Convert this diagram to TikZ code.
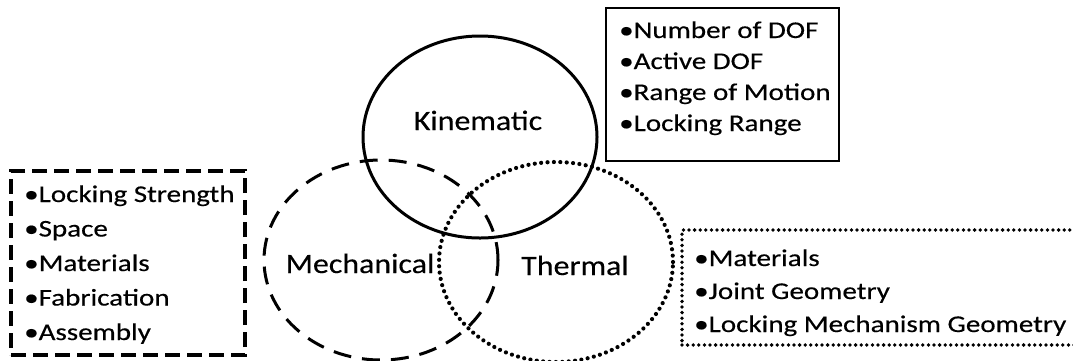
\documentclass[tikz,border=0pt]{standalone}
\usepackage{fontspec}
\setmainfont{Carlito}
\newfontfamily\listfont[FakeStretch=1.21,FakeBold=0.35]{Carlito}
\newfontfamily\labfont[FakeStretch=1.14,FakeBold=0.3]{Carlito}
\usetikzlibrary{shapes.geometric}
\tikzset{
  item/.style={font=\listfont\fontsize{24}{28}\selectfont, anchor=base west, inner sep=0pt},
  lab/.style={font=\labfont\fontsize{28}{32}\selectfont, anchor=base, inner sep=0pt},
  venn/.style={ellipse, draw, line width=3pt, inner sep=0pt, minimum width=234pt},
  dashline/.style={line width=3pt, dash pattern=on 18pt off 11pt},
  dotline/.style={line width=4.2pt, line cap=round, dash pattern=on 0pt off 6.4pt},
  boxdash/.style={line width=3.2pt, dash pattern=on 15pt off 7pt},
  boxdot/.style={line width=3.8pt, line cap=round, dash pattern=on 0pt off 5.6pt},
  frame/.style={rectangle, inner sep=0pt, outer sep=0pt}
}
\begin{document}
\begin{tikzpicture}[x=1pt,y=-1pt]
\useasboundingbox (0,0) rectangle (1073,360);
\clip (0,0) rectangle (1073,360);
\fill[white] (0,0) rectangle (1073,360);
% Venn ellipses
\node[venn, minimum height=202pt] (kin) at (480,137) {};
\node[venn, dashline, minimum height=200pt] (mech) at (381,260) {};
\node[venn, dotline, minimum height=200pt] (therm) at (556,262) {};
% labels
\node[lab] (kinl) at (478,130) {Kinematic};
\node[lab] (mechl) at (360,273) {Mechanical};
\node[lab] (therml) at (575,275) {Thermal};
% top box
\node[frame, draw, line width=2.8pt, minimum width=233pt, minimum height=153pt] (kbox) at (722.5,84.5) {};
\node[item] (k1) at (619,38) {\textbullet Number of DOF};
\node[item] (k2) at (619,69) {\textbullet Active DOF};
\node[item] (k3) at (619,100) {\textbullet Range of Motion};
\node[item] (k4) at (619,131) {\textbullet Locking Range};
% left box
\node[frame, draw, boxdash, minimum width=234pt, minimum height=184pt] (mbox) at (128,263) {};
\node[item] (m1) at (24,202) {\textbullet Locking Strength};
\node[item] (m2) at (24,236.5) {\textbullet Space};
\node[item] (m3) at (24,271) {\textbullet Materials};
\node[item] (m4) at (24,305.5) {\textbullet Fabrication};
\node[item] (m5) at (24,340) {\textbullet Assembly};
% right box
\node[frame, draw, boxdot, minimum width=408pt, minimum height=115pt] (tbox) at (886,287.5) {};
\node[item] (t1) at (694,266) {\textbullet Materials};
\node[item] (t2) at (694,299) {\textbullet Joint Geometry};
\node[item] (t3) at (694,332) {\textbullet Locking Mechanism Geometry};
\end{tikzpicture}
\end{document}
